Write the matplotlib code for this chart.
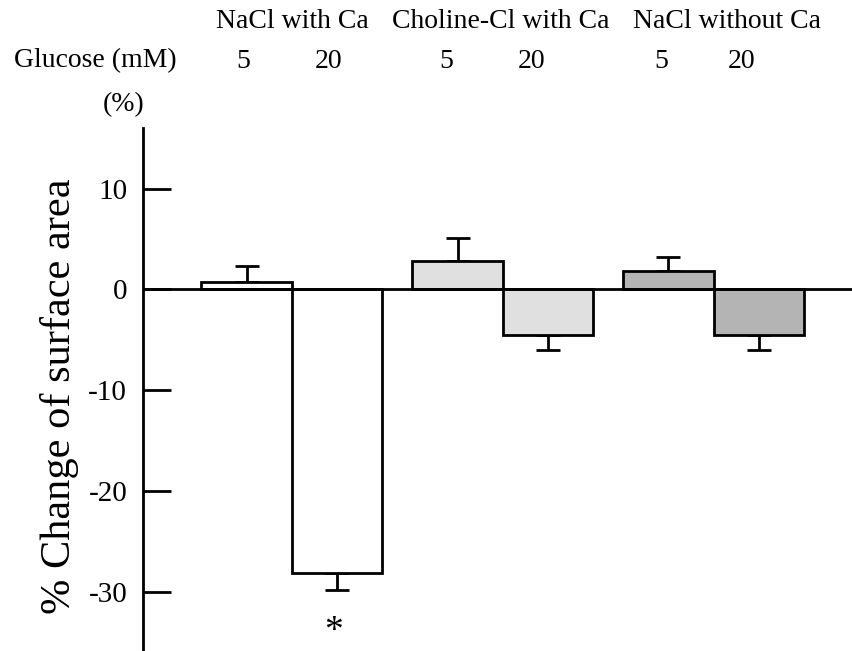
import matplotlib
matplotlib.use("Agg")
import matplotlib.pyplot as plt
import numpy as np

plt.rcParams['font.family'] = ['Liberation Serif', 'DejaVu Serif']

# ---- data ----
groups = ["NaCl with Ca", "Choline-Cl with Ca", "NaCl without Ca"]
glucose = ["5", "20", "5", "20", "5", "20"]
values = [0.7, -28.2, 2.8, -4.5, 1.8, -4.5]
errors = [1.65, 1.6, 2.3, 1.55, 1.45, 1.55]
colors = ["white", "white", "#e0e0e0", "#e0e0e0", "#b4b4b4", "#b4b4b4"]
yticks = [10, 0, -10, -20, -30]

W, H = 852, 651
fig = plt.figure(figsize=(W / 100, H / 100), dpi=100)

def fx(px):
    return px / W

def fy(py):
    return 1 - py / H

ax = fig.add_axes([fx(142.5), 0.0, 1 - fx(142.5), fy(128.3)])

x = np.array([0, 1, 2.33, 3.33, 4.66, 5.66])
vals = np.array(values)
errs = np.array(errors)
lower = np.where(vals < 0, errs, 0)
upper = np.where(vals >= 0, errs, 0)

ax.bar(x, vals, width=1.0, color=colors, edgecolor="black", linewidth=2.0, zorder=3)
ax.errorbar(x, vals, yerr=[lower, upper], fmt="none", ecolor="black",
            elinewidth=2.0, capsize=8.6, capthick=2.0, zorder=2)
ax.axhline(0, color="black", linewidth=2.0, zorder=4)

ax.set_xlim(-1.151, 6.689)
ax.set_ylim(-35.9, 16.0)
ax.set_xticks([])
ax.set_yticks(yticks)
ax.set_yticklabels([str(t) for t in yticks])
ax.tick_params(axis="y", direction="in", length=20, width=2.0, pad=11, labelsize=21)
for s in ["top", "right", "bottom"]:
    ax.spines[s].set_visible(False)
ax.spines["left"].set_linewidth(2.0)

# y label
fig.text(fx(60), fy(396), "% Change of surface area", rotation=90,
         ha="center", va="center", fontsize=30.5)
fig.text(fx(124), fy(105), "(%)", ha="center", va="center", fontsize=20)

# header texts
group_px = [292, 501, 727]
for g, px in zip(groups, group_px):
    fig.text(fx(px), fy(22), g, ha="center", va="center", fontsize=20)
fig.text(fx(14), fy(61), "Glucose (mM)", ha="left", va="center", fontsize=20)
glu_px = [243.5, 328.5, 446, 532, 661, 742]
for g, px in zip(glucose, glu_px):
    fig.text(fx(px), fy(61), g, ha="center", va="center", fontsize=20)

# significance
ax.annotate("*", xy=(x[1], vals[1] - errs[1]), xytext=(-2.5, -37),
            textcoords="offset points", ha="center", va="baseline", fontsize=27)

fig.savefig("out.png", dpi=100)
